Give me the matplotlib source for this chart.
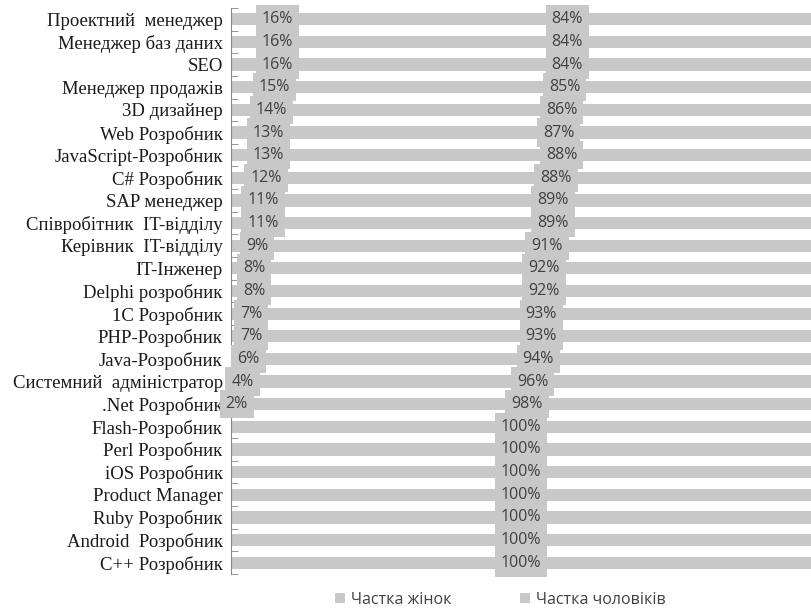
import numpy as np
import matplotlib
matplotlib.use('Agg')
import matplotlib.pyplot as plt

categories = [
    'Проектний  менеджер', 'Менеджер баз даних', 'SEO', 'Менеджер продажів',
    '3D дизайнер', 'Web Розробник', 'JavaScript-Розробник', 'C# Розробник',
    'SAP менеджер', 'Співробітник  IT-відділу', 'Керівник  IT-відділу',
    'IT-Інженер', 'Delphi розробник', '1C Розробник', 'PHP-Розробник',
    'Java-Розробник', 'Системний  адміністратор', '.Net Розробник',
    'Flash-Розробник', 'Perl Розробник', 'iOS Розробник', 'Product Manager',
    'Ruby Розробник', 'Android  Розробник', 'C++ Розробник',
]
women = [16, 16, 16, 15, 14, 13, 13, 12, 11, 11, 9, 8, 8, 7, 7, 6, 4, 2,
         0, 0, 0, 0, 0, 0, 0]
men = [84, 84, 84, 85, 86, 87, 88, 88, 89, 89, 91, 92, 92, 93, 93, 94, 96, 98,
       100, 100, 100, 100, 100, 100, 100]
series_names = ['Частка жінок', 'Частка чоловіків']

barColour = '#c8c8c8'
labelFont = {'family': ['Open Sans', 'DejaVu Sans'], 'size': 11.5, 'color': '#404040'}

fig = plt.figure(figsize=(8.11, 6.10), dpi=100)
ax = fig.add_axes([231 / 811, 36 / 610, 580 / 811, 566 / 610])

y = np.arange(len(categories))
w = np.array(women) / 100.0
m = np.array(men) / 100.0
ax.barh(y, w, height=0.54, color=barColour, label=series_names[0])
ax.barh(y, m, left=w, height=0.54, color=barColour, label=series_names[1])

### Data labels centred in each segment, on a grey box
for i in range(len(categories)):
    if women[i] > 0:
        ax.text(w[i] / 2, y[i], '{}%'.format(women[i]), ha='center', va='center',
                fontdict=labelFont,
                bbox=dict(boxstyle='square,pad=0.38', fc=barColour, ec='none'))
    ax.text(w[i] + m[i] / 2, y[i], '{}%'.format(men[i]), ha='center', va='center',
            fontdict=labelFont,
            bbox=dict(boxstyle='square,pad=0.38', fc=barColour, ec='none'))

ax.set_xlim(0, 1)
ax.set_ylim(len(categories) - 0.5, -0.5)
ax.set_yticks(y)
ax.set_yticklabels(categories, fontfamily='Liberation Serif', fontsize=13.5, color='#1a1a1a')
ax.set_yticks(np.arange(len(categories) + 1) - 0.5, minor=True)
ax.tick_params(axis='y', which='major', length=0, pad=6)
ax.tick_params(axis='y', which='minor', direction='in', length=5, color='#888888')
ax.set_xticks([])
for side in ['top', 'right', 'bottom']:
    ax.spines[side].set_visible(False)
ax.spines['left'].set_color('#888888')

legend = fig.legend(loc='center left', bbox_to_anchor=(335 / 811, 10 / 610), ncol=2, frameon=False,
                    prop={'family': ['Open Sans', 'DejaVu Sans'], 'size': 11.5},
                    handlelength=0.6, handleheight=0.6, handletextpad=0.4,
                    columnspacing=4.3, borderpad=0, borderaxespad=0)
for t in legend.get_texts():
    t.set_color('#404040')

fig.savefig('out.png', dpi=100)
